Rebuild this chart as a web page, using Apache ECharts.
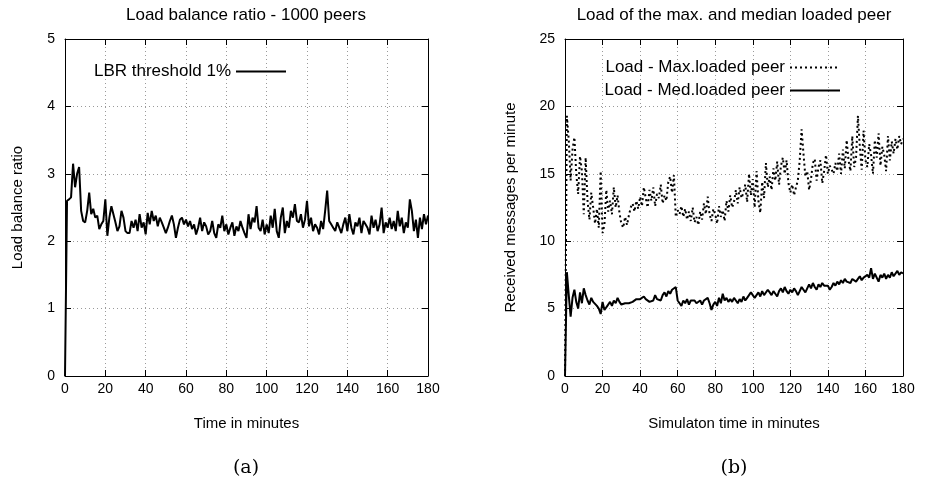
<!DOCTYPE html>
<html>
<head>
<meta charset="utf-8">
<script src="https://cdn.jsdelivr.net/npm/echarts@6/dist/echarts.min.js"></script>
<style>html,body{margin:0;padding:0;background:#fff}#c{width:934px;height:489px}</style>
</head>
<body>
<div id="c"></div>
<script>
// ---- data ----
const xTicks = [0, 20, 40, 60, 80, 100, 120, 140, 160, 180];
const yTicksA = [0, 1, 2, 3, 4, 5];
const yTicksB = [0, 5, 10, 15, 20, 25];
const titleA = 'Load balance ratio - 1000 peers';
const titleB = 'Load of the max. and median loaded peer';
const nameLBR = 'LBR threshold 1%';
const nameMax = 'Load - Max.loaded peer';
const nameMed = 'Load - Med.loaded peer';

// load balance ratio, one value per minute (0..180)
const lbr = [0,2.6,2.62,2.65,3.15,2.8,3.0,3.1,2.45,2.3,2.28,2.45,2.72,2.4,2.48,2.35,2.38,2.18,2.25,2.3,
2.62,2.08,2.35,2.52,2.4,2.28,2.15,2.22,2.45,2.35,2.15,2.12,2.12,2.3,2.2,2.32,2.15,2.4,2.2,2.28,
2.1,2.42,2.25,2.45,2.3,2.38,2.22,2.35,2.28,2.2,2.12,2.2,2.3,2.38,2.25,2.05,2.2,2.32,2.35,2.25,
2.32,2.22,2.3,2.18,2.25,2.1,2.2,2.35,2.15,2.28,2.22,2.1,2.15,2.3,2.12,2.05,2.25,2.2,2.38,2.15,
2.25,2.1,2.2,2.28,2.08,2.22,2.15,2.3,2.2,2.12,2.05,2.4,2.18,2.35,2.28,2.52,2.2,2.15,2.32,2.1,
2.25,2.12,2.38,2.2,2.48,2.15,2.05,2.35,2.5,2.12,2.3,2.2,2.45,2.35,2.55,2.3,2.28,2.4,2.2,2.32,
2.6,2.22,2.35,2.15,2.25,2.2,2.1,2.3,2.18,2.45,2.75,2.3,2.25,2.2,2.15,2.28,2.2,2.12,2.25,2.35,
2.15,2.4,2.2,2.1,2.28,2.22,2.35,2.12,2.3,2.25,2.2,2.1,2.38,2.2,2.32,2.15,2.25,2.5,2.12,2.28,
2.2,2.35,2.18,2.3,2.15,2.45,2.22,2.35,2.12,2.28,2.2,2.62,2.45,2.15,2.32,2.05,2.35,2.18,2.4,2.25,2.38];

// load of the max. loaded peer (messages per minute)
const maxLoad = [0,19.3,17.5,14.5,16.8,17.7,15.0,13.5,16.3,15.2,12.0,16.2,13.0,11.6,13.6,12.5,11.3,12.4,11.0,15.2,
10.6,11.2,13.8,12.2,13.0,12.0,14.0,12.5,13.4,12.1,11.3,11.0,11.8,11.2,11.9,12.5,12.8,12.2,13.0,12.4,
13.3,12.6,14.0,13.2,12.5,13.8,13.0,14.0,12.6,13.5,13.2,14.2,12.8,13.4,13.0,14.4,14.8,13.6,14.9,11.8,
12.3,12.0,12.6,11.8,12.4,11.6,12.2,11.5,12.5,11.4,11.8,11.2,12.2,11.6,12.8,12.0,13.3,12.0,11.5,12.4,
12.0,11.3,12.6,11.8,12.3,11.5,13.0,12.2,13.4,12.5,12.9,13.8,12.8,14.0,13.2,13.6,14.2,12.9,15.0,13.4,
14.6,12.5,15.2,13.0,12.1,14.4,13.2,15.8,14.0,14.8,13.8,15.4,14.5,15.9,14.2,15.6,16.2,15.0,16.0,14.3,
13.6,14.2,13.4,14.0,14.5,16.0,18.3,16.5,14.8,15.2,13.8,14.6,15.8,16.1,14.5,15.5,16.0,14.3,15.2,16.4,
15.0,15.6,15.3,15.0,15.8,15.2,16.5,15.0,16.8,15.4,17.5,16.0,15.2,17.8,15.5,16.2,19.3,17.0,15.3,18.2,
16.0,15.5,17.2,16.4,15.0,17.5,16.2,18.0,15.6,17.0,16.4,15.2,17.8,16.0,17.4,16.5,17.6,16.8,17.8,17.2,17.6];

// load of the median loaded peer (messages per minute)
const medLoad = [0,7.7,6.0,4.4,5.8,6.4,5.5,5.0,6.2,5.4,6.5,6.0,5.6,5.3,5.8,5.5,5.6,5.2,5.0,4.6,
5.5,4.9,5.0,5.3,5.5,5.2,5.6,5.4,5.8,5.5,5.3,5.2,5.4,5.3,5.4,5.4,5.5,5.4,5.7,5.6,
5.7,5.6,5.9,5.7,5.8,5.5,5.6,5.6,6.0,5.7,5.6,5.6,6.0,6.2,5.9,6.3,6.1,6.4,6.3,6.6,
5.6,5.4,5.2,5.6,5.4,5.7,5.3,5.6,5.5,5.6,5.4,5.5,5.6,5.3,5.6,5.5,5.8,5.4,4.9,5.3,
5.5,5.2,5.8,5.4,6.1,5.6,5.8,5.5,5.7,5.5,5.8,5.6,5.4,5.7,5.5,5.9,5.6,5.8,6.0,6.2,
6.1,5.8,6.0,6.2,5.9,6.3,6.0,6.1,6.4,6.2,6.0,6.3,6.1,5.9,6.3,6.5,6.2,6.6,6.3,6.1,
6.4,6.2,6.5,6.3,6.0,6.3,6.6,6.4,6.2,6.5,6.8,6.5,6.9,6.6,6.4,6.8,6.6,6.9,6.7,6.6,
6.7,6.4,6.6,6.9,6.7,7.0,6.8,7.1,6.9,7.2,7.0,7.1,6.9,7.2,7.3,7.0,7.2,7.4,7.1,7.3,
7.2,7.5,7.3,8.0,7.2,7.6,7.3,7.0,7.5,7.3,7.6,7.2,7.5,7.3,7.7,7.4,7.5,7.8,7.5,7.7,7.6];

// time axis: one sample per minute
const minutes = lbr.map((_, i) => i);
const pair = arr => arr.map((v, i) => [minutes[i], v]);

// ---- chart ----
const FONT = 'Liberation Sans';
const chart = echarts.init(document.getElementById('c'), null, {renderer: 'canvas'});

function xAx(grid, name, top) {
  return {
    type: 'value', gridIndex: grid, min: xTicks[0], max: xTicks[xTicks.length - 1], interval: 20,
    position: top ? 'top' : 'bottom',
    axisLine: {show: true, onZero: false, lineStyle: {color: '#000', width: 1}},
    axisTick: {show: true, inside: true, length: 6, lineStyle: {color: '#000'}},
    axisLabel: {show: !top, color: '#000', fontSize: 14, fontFamily: FONT, margin: 6},
    splitLine: {show: !top, lineStyle: {color: '#9a9a9a', type: [1, 3], width: 1}},
    name: top ? '' : name, nameLocation: 'middle', nameGap: 40,
    nameTextStyle: {color: '#000', fontSize: 15, fontFamily: FONT}
  };
}
function yAx(grid, ticks, name, right, gap) {
  return {
    type: 'value', gridIndex: grid, min: ticks[0], max: ticks[ticks.length - 1], interval: ticks[1] - ticks[0],
    position: right ? 'right' : 'left',
    axisLine: {show: true, onZero: false, lineStyle: {color: '#000', width: 1}},
    axisTick: {show: true, inside: true, length: 6, lineStyle: {color: '#000'}},
    axisLabel: {show: !right, color: '#000', fontSize: 14, fontFamily: FONT, margin: 10},
    splitLine: {show: !right, lineStyle: {color: '#9a9a9a', type: [1, 3], width: 1}},
    name: right ? '' : name, nameLocation: 'middle', nameGap: gap, nameRotate: 90,
    nameTextStyle: {color: '#000', fontSize: 15, fontFamily: FONT}
  };
}

const legendBase = {
  orient: 'vertical', align: 'right', itemWidth: 50, itemHeight: 14, itemGap: 8, padding: 0,
  itemStyle: {opacity: 0},
  textStyle: {color: '#000', fontSize: 17, fontFamily: FONT}, selectedMode: false
};

chart.setOption({
  animation: false,
  backgroundColor: '#fff',
  grid: [
    {left: 65, top: 39, width: 363, height: 337},
    {left: 565, top: 39, width: 338, height: 337}
  ],
  xAxis: [
    xAx(0, 'Time in minutes', false), xAx(0, '', true),
    xAx(1, 'Simulaton time in minutes', false), xAx(1, '', true)
  ],
  yAxis: [
    yAx(0, yTicksA, 'Load balance ratio', false, 40), yAx(0, yTicksA, '', true, 0),
    yAx(1, yTicksB, 'Received messages per minute', false, 47), yAx(1, yTicksB, '', true, 0)
  ],
  legend: [
    Object.assign({}, legendBase, {data: [nameLBR], right: 647, top: 63}),
    Object.assign({}, legendBase, {data: [nameMax], right: 93, top: 59}),
    Object.assign({}, legendBase, {data: [nameMed], right: 93, top: 82})
  ],
  series: [
    {name: nameLBR, type: 'line', xAxisIndex: 0, yAxisIndex: 0, data: pair(lbr), symbol: 'none',
     lineStyle: {color: '#000', width: 2}, itemStyle: {color: '#000'}},
    {name: nameMax, type: 'line', xAxisIndex: 2, yAxisIndex: 2, data: pair(maxLoad), symbol: 'none',
     lineStyle: {color: '#000', width: 2, type: [2, 3]}, itemStyle: {color: '#000'}},
    {name: nameMed, type: 'line', xAxisIndex: 2, yAxisIndex: 2, data: pair(medLoad), symbol: 'none',
     lineStyle: {color: '#000', width: 2}, itemStyle: {color: '#000'}}
  ],
  graphic: [
    {type: 'text', x: 246, y: 15, style: {text: titleA, align: 'center', verticalAlign: 'middle', fill: '#000', font: '17px "Liberation Sans"'}},
    {type: 'text', x: 734, y: 15, style: {text: titleB, align: 'center', verticalAlign: 'middle', fill: '#000', font: '17px "Liberation Sans"'}},
    {type: 'text', x: 246, y: 468, style: {text: '(a)', align: 'center', verticalAlign: 'middle', fill: '#000', font: '19px "DejaVu Serif"'}},
    {type: 'text', x: 734, y: 468, style: {text: '(b)', align: 'center', verticalAlign: 'middle', fill: '#000', font: '19px "DejaVu Serif"'}}
  ]
});
</script>
</body>
</html>
